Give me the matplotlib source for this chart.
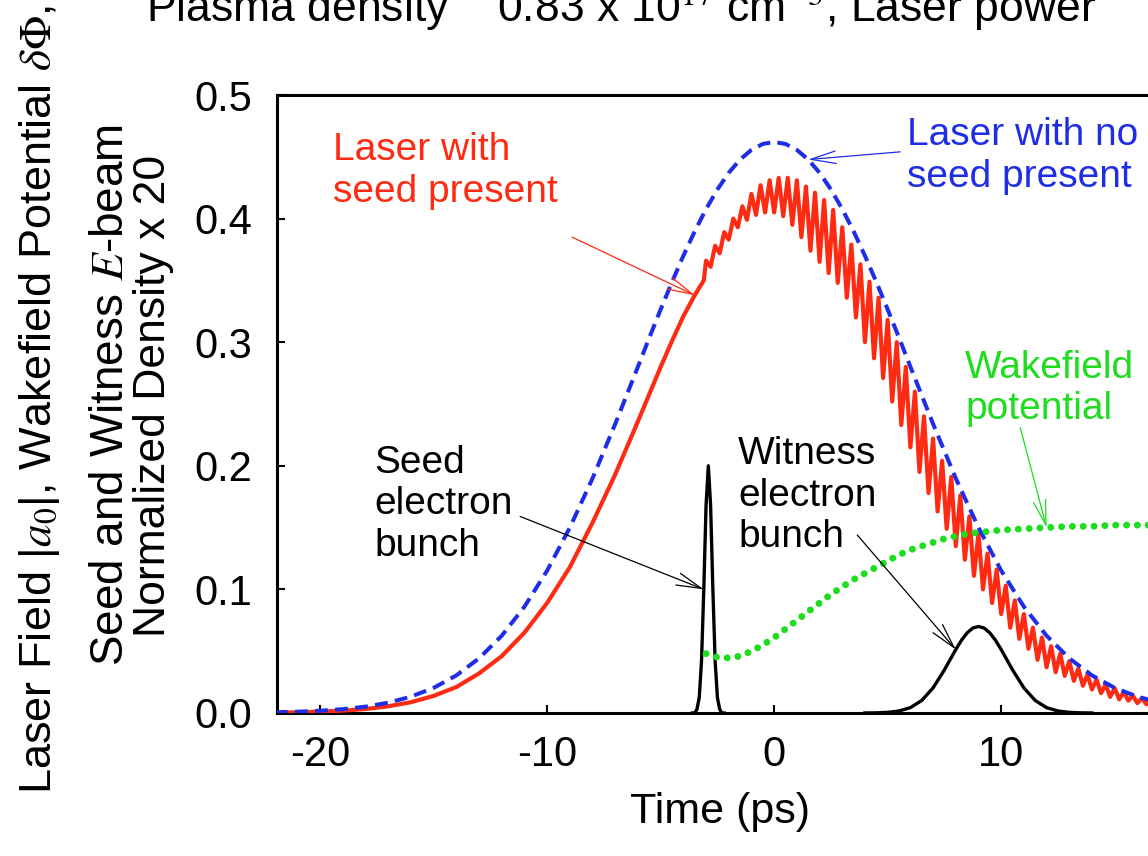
import numpy as np
import matplotlib.pyplot as plt

plt.rcParams['font.family'] = ['Liberation Sans', 'DejaVu Sans']
plt.rcParams['mathtext.fontset'] = 'stix'
plt.rcParams['axes.unicode_minus'] = False

# laser field |a0| with no seed present (time in ps)
blue_t = [-22, -21, -20, -19, -18, -17, -16, -15, -14, -13, -12, -11, -10, -9, -8, -7,
          -6, -5.5, -5, -4.5, -4, -3.5, -3, -2.5, -2, -1.5, -1, -0.5, 0,
          0.5, 1, 1.5, 2, 2.5, 3, 3.5, 4, 4.5, 5, 5.5, 6,
          7, 8, 9, 10, 11, 12, 13, 14, 15, 16, 17]
blue_v = [0.0006, 0.0010, 0.0018, 0.0031, 0.0051, 0.0083, 0.0132, 0.0203, 0.0304, 0.0442,
          0.0625, 0.0860, 0.1152, 0.1500, 0.1899, 0.2339,
          0.2802, 0.3036, 0.3265, 0.3487, 0.3699, 0.3897, 0.4077, 0.4236, 0.4371, 0.4478,
          0.4556, 0.4604, 0.4620,
          0.4604, 0.4556, 0.4478, 0.4371, 0.4236, 0.4077, 0.3897, 0.3699, 0.3487, 0.3265,
          0.3036, 0.2802,
          0.2339, 0.1899, 0.1500, 0.1152, 0.0860, 0.0625, 0.0442, 0.0304, 0.0203, 0.0132, 0.0083]

# laser field with seed present: smooth rise before the seed bunch
red_t = [-22, -21, -20, -19, -18, -17, -16, -15, -14, -13, -12, -11, -10, -9, -8, -7,
         -6, -5.5, -5, -4.5, -4, -3.5, -3.1]
red_v = [0.0003, 0.0005, 0.0011, 0.0019, 0.0032, 0.0054, 0.0087, 0.0138, 0.021, 0.032,
         0.046, 0.065, 0.089, 0.118, 0.154, 0.193, 0.236, 0.258, 0.280, 0.301, 0.321,
         0.338, 0.350]

# modulated part after the seed: crests and troughs of the beating
crest_t = [-3.0, -2.6, -2.2, -1.8, -1.4, -1.0, -0.6, -0.2, 0.2, 0.6, 1.0, 1.4, 1.8, 2.2,
           2.6, 3.0, 3.4, 3.8, 4.2, 4.6, 5.0, 5.4, 5.8, 6.2, 6.6, 7.0, 7.4, 7.8, 8.2, 8.6,
           9.0, 9.4, 9.8, 10.2, 10.6, 11.0, 11.4, 11.8, 12.2, 12.6, 13.0, 13.4, 13.8, 14.2,
           14.6, 15.0, 15.4, 15.8, 16.2, 16.6, 17.0]
crest_v = [0.366, 0.378, 0.389, 0.400, 0.410, 0.420, 0.427, 0.431, 0.433, 0.433, 0.431,
           0.426, 0.421, 0.415, 0.407, 0.393, 0.379, 0.363, 0.349, 0.336, 0.318, 0.300,
           0.280, 0.260, 0.240, 0.222, 0.204, 0.191, 0.176, 0.159, 0.145, 0.129, 0.116,
           0.103, 0.091, 0.080, 0.069, 0.061, 0.054, 0.048, 0.042, 0.036, 0.031, 0.027,
           0.023, 0.020, 0.017, 0.014, 0.012, 0.010, 0.008]
trough_t = [-2.8, -2.4, -2.0, -1.6, -1.2, -0.8, -0.4, 0.0, 0.4, 0.8, 1.2, 1.6, 2.0, 2.4,
            2.8, 3.2, 3.6, 4.0, 4.4, 4.8, 5.2, 5.6, 6.0, 6.4, 6.8, 7.2, 7.6, 8.0, 8.4, 8.8,
            9.2, 9.6, 10.0, 10.4, 10.8, 11.2, 11.6, 12.0, 12.4, 12.8, 13.2, 13.6, 14.0,
            14.4, 14.8, 15.2, 15.6, 16.0, 16.4, 16.8]
trough_v = [0.361, 0.372, 0.383, 0.393, 0.399, 0.403, 0.405, 0.405, 0.402, 0.395, 0.385,
            0.374, 0.365, 0.356, 0.348, 0.336, 0.320, 0.300, 0.287, 0.271, 0.252, 0.233,
            0.215, 0.195, 0.178, 0.163, 0.149, 0.135, 0.124, 0.111, 0.100, 0.089, 0.080,
            0.069, 0.060, 0.052, 0.043, 0.037, 0.033, 0.030, 0.026, 0.022, 0.019, 0.016,
            0.013, 0.011, 0.010, 0.008, 0.007, 0.005]

# wakefield potential
green_t = [-3.0, -2.5, -2.0, -1.5, -1.0, -0.5, 0.0, 0.5, 1.0, 1.5, 2.0, 2.5, 3.0, 3.5,
           4.0, 4.5, 5.0, 5.5, 6.0, 6.5, 7.0, 7.5, 8.0, 8.5, 9.0, 9.5, 10, 11, 12, 13,
           14, 15, 16, 17, 18]
green_v = [0.048, 0.045, 0.0445, 0.046, 0.050, 0.055, 0.061, 0.068, 0.075, 0.082, 0.089,
           0.096, 0.102, 0.108, 0.113, 0.118, 0.123, 0.128, 0.132, 0.135, 0.138, 0.141,
           0.143, 0.145, 0.146, 0.147, 0.148, 0.149, 0.150, 0.151, 0.151, 0.152, 0.152,
           0.152, 0.152]

# seed electron bunch density x 20
seed_t = [-3.6, -3.5, -3.4, -3.3, -3.2, -3.1, -3.0, -2.9, -2.8, -2.7, -2.6, -2.5, -2.4,
          -2.3, -2.2]
seed_v = [0.0, 0.0, 0.003, 0.0125, 0.042, 0.100, 0.168, 0.200, 0.168, 0.100, 0.042,
          0.0125, 0.003, 0.0, 0.0]

# witness electron bunch density x 20
wit_t = [4.0, 4.5, 5.0, 5.5, 6.0, 6.5, 7.0, 7.5, 8.0, 8.25, 8.5, 8.75, 9.0, 9.25, 9.5,
         9.75, 10.0, 10.5, 11.0, 11.5, 12.0, 12.5, 13.0, 13.5, 14.0]
wit_v = [0.0, 0.0001, 0.0005, 0.0016, 0.0043, 0.0101, 0.0203, 0.0349, 0.0513, 0.0588,
         0.0648, 0.0687, 0.0700, 0.0687, 0.0648, 0.0588, 0.0513, 0.0349, 0.0203, 0.0101,
         0.0043, 0.0016, 0.0005, 0.0001, 0.0]

xticks = [-20, -10, 0, 10, 20]
yticks = [0.0, 0.1, 0.2, 0.3, 0.4, 0.5]

RED = '#ff2a12'
BLUE = '#1f2ee6'
GREEN = '#1edc1e'

# stitch smooth rise and the crest/trough zigzag into one trace
osc_t = np.empty(len(crest_t) + len(trough_t))
osc_v = np.empty_like(osc_t)
osc_t[0::2], osc_t[1::2] = crest_t, trough_t
osc_v[0::2], osc_v[1::2] = crest_v, trough_v
seeded_t = np.concatenate([red_t, osc_t])
seeded_v = np.concatenate([red_v, osc_v])

fig = plt.figure(figsize=(11.48, 8.56), dpi=100)
ax = fig.add_axes([0.2413, 0.1671, 0.7712, 0.7219])

ax.plot(seeded_t, seeded_v, color=RED, lw=3.0, zorder=3)
ax.plot(blue_t, blue_v, color=BLUE, lw=2.9, dashes=(3.2, 1.8), zorder=4)
ax.plot(seed_t, seed_v, color='black', lw=2.4, zorder=5)
ax.plot(wit_t, wit_v, color='black', lw=2.4, zorder=5)
ax.plot(green_t, green_v, color=GREEN, lw=5.0, dashes=(0.01, 1.55),
        dash_capstyle='round', zorder=6)

ax.set_xticks(xticks)
ax.set_yticks(yticks)
ax.set_yticklabels(['%.1f' % v for v in yticks])
ax.set_xlim(-21.9, 17.1)
ax.set_ylim(0, 0.5)
ax.tick_params(direction='in', length=6, width=1.5, labelsize=30,
               top=False, right=False)
ax.tick_params(axis='x', pad=16)
ax.tick_params(axis='y', pad=18)
for side in ['left', 'bottom', 'top']:
    ax.spines[side].set_linewidth(2.2)
ax.spines['right'].set_visible(False)
ax.set_xlabel('Time (ps)', fontsize=31, labelpad=12)

# multi-line y label
fig.text(0.034, 0.533, r'Laser Field |$a_0$|, Wakefield Potential $\delta\Phi$,',
         rotation=90, ha='center', va='center', fontsize=32.5)
fig.text(0.0965, 0.539, r'Seed and Witness $E$-beam', rotation=90,
         ha='center', va='center', fontsize=33)
fig.text(0.1335, 0.537, 'Normalized Density x 20', rotation=90,
         ha='center', va='center', fontsize=32)

fig.text(146 / 1148, 1 - 21 / 856,
         r'Plasma density    0.83 x 10$^{17}$ cm$^{-3}$, Laser power',
         ha='left', va='baseline', fontsize=32)

# callouts
ann = dict(fontsize=28, va='top', ha='left', zorder=7)
ax.text(-19.43, 0.470, 'Laser with\nseed present', color=RED, **ann)
ax.text(5.86, 0.482, 'Laser with no\nseed present', color=BLUE, **ann)
ax.text(8.41, 0.294, 'Wakefield\npotential', color=GREEN, **ann)
ax.text(-17.62, 0.217, 'Seed\nelectron\nbunch', color='black', **ann)
ax.text(-1.59, 0.224, 'Witness\nelectron\nbunch', color='black', **ann)

def pointer(tip, start, color):
    ax.annotate('', xy=tip, xytext=start, zorder=7,
                arrowprops=dict(arrowstyle='->, head_length=1.8, head_width=0.45',
                                color=color, lw=0.9, shrinkA=0, shrinkB=0))

pointer((red_t[-2], red_v[-2]), (-8.9, 0.385), RED)
pointer((blue_t[31], blue_v[31]), (5.55, 0.454), BLUE)
pointer((green_t[28], green_v[28]), (10.84, 0.231), GREEN)
pointer((seed_t[5], seed_v[5]), (-11.19, 0.159), 'black')
pointer((wit_t[8], wit_v[8]), (3.66, 0.144), 'black')

fig.savefig('out.png', dpi=100)
